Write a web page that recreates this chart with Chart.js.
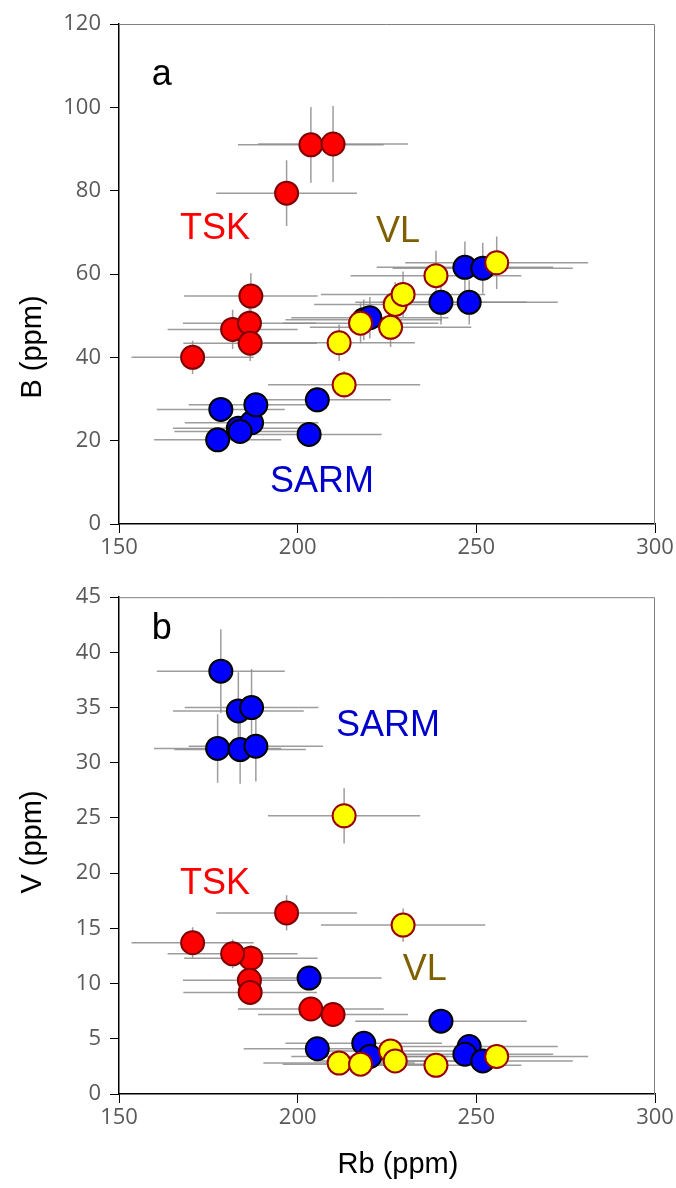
<!DOCTYPE html>
<html>
<head>
<meta charset="utf-8">
<script src="https://cdn.jsdelivr.net/npm/chart.js@4"></script>
<style>
  body { margin: 0; background: #fff; width: 676px; height: 1188px; position: relative; overflow: hidden; }
  .box { position: absolute; left: 0; width: 676px; }
</style>
</head>
<body>
<div class="box" style="top:0;height:575px"><canvas id="chartB"></canvas></div>
<div class="box" style="top:575px;height:613px"><canvas id="chartV"></canvas></div>
<script>
// Rb, B and V in ppm, with the +/- errors
const redRb   = [203.7, 209.9, 196.9, 186.9, 181.8, 186.5, 186.7, 170.6];
const redRbErr = [20.4, 21.0, 19.7, 18.7, 18.2, 18.6, 18.7, 17.1];
const redB    = [91.0, 91.2, 79.4, 54.7, 46.7, 48.2, 43.4, 40.0];
const redBErr = [9.1, 9.1, 7.9, 5.5, 4.7, 4.8, 4.3, 4.0];
const redV    = [7.7, 7.2, 16.4, 12.3, 12.7, 10.3, 9.2, 13.7];
const redVErr = [0.8, 0.7, 1.6, 1.2, 1.3, 1.0, 0.9, 1.4];

const blueRb   = [178.5, 183.4, 187.1, 177.6, 183.9, 188.3, 203.2, 205.5, 218.5, 220.2, 240.1, 248.0, 246.8, 251.8];
const blueRbErr = [17.9, 18.3, 18.7, 17.8, 18.4, 18.8, 20.3, 20.6, 21.9, 22.0, 24.0, 24.8, 24.7, 25.2];
const blueB    = [27.5, 23.0, 24.3, 20.2, 22.2, 28.6, 21.5, 29.8, 49.0, 49.5, 53.2, 53.2, 61.6, 61.4];
const blueBErr = [2.8, 2.3, 2.4, 2.0, 2.2, 2.9, 2.2, 3.0, 4.9, 5.0, 5.3, 5.3, 6.2, 6.1];
const blueV    = [38.3, 34.7, 35.0, 31.3, 31.2, 31.5, 10.5, 4.1, 4.6, 3.4, 6.6, 4.3, 3.6, 3.0];
const blueVErr = [3.8, 3.5, 3.5, 3.1, 3.1, 3.2, 1.1, 0.4, 0.5, 0.3, 0.7, 0.4, 0.4, 0.3];

const yellowRb   = [211.6, 213.0, 217.6, 226.0, 227.3, 229.5, 238.7, 255.7];
const yellowRbErr = [21.2, 21.3, 21.8, 22.6, 22.7, 23.0, 23.9, 25.6];
const yellowB    = [43.5, 33.4, 48.2, 47.2, 52.7, 55.1, 59.6, 62.7];
const yellowBErr = [4.4, 3.3, 4.8, 4.7, 5.3, 5.5, 6.0, 6.3];
const yellowV    = [2.8, 25.2, 2.7, 3.9, 3.0, 15.3, 2.6, 3.4];
const yellowVErr = [0.3, 2.5, 0.3, 0.4, 0.3, 1.5, 0.3, 0.3];

const xTicks = [150, 200, 250, 300];

function pts(xs, ys) {
  return xs.map((x, i) => ({ x: x, y: ys[i] }));
}

function series(xs, xe, ys, ye, fill, edge, ord) {
  return {
    data: pts(xs, ys), xErr: xe, yErr: ye, order: ord,
    pointRadius: 11.5, pointHoverRadius: 11.5,
    backgroundColor: fill, borderColor: edge, borderWidth: 2
  };
}

// error bars + top/right frame, then text notes
function extras(notes, yTitle) {
  return {
    id: 'extras',
    beforeDatasetsDraw(chart) {
      const ctx = chart.ctx, xs = chart.scales.x, ys = chart.scales.y, a = chart.chartArea;
      ctx.save();
      ctx.strokeStyle = '#808080';
      ctx.lineWidth = 1;
      ctx.beginPath();
      ctx.moveTo(a.left, a.top + 0.5);
      ctx.lineTo(a.right - 0.5, a.top + 0.5);
      ctx.lineTo(a.right - 0.5, a.bottom);
      ctx.stroke();
      ctx.beginPath();
      ctx.rect(a.left, a.top, a.right - a.left, a.bottom - a.top);
      ctx.clip();
      ctx.strokeStyle = 'rgba(140,140,140,0.85)';
      ctx.lineWidth = 1.5;
      chart.data.datasets.forEach(ds => {
        ds.data.forEach((p, i) => {
          const px = xs.getPixelForValue(p.x), py = ys.getPixelForValue(p.y);
          ctx.beginPath();
          ctx.moveTo(xs.getPixelForValue(p.x - ds.xErr[i]), py);
          ctx.lineTo(xs.getPixelForValue(p.x + ds.xErr[i]), py);
          ctx.moveTo(px, ys.getPixelForValue(p.y - ds.yErr[i]));
          ctx.lineTo(px, ys.getPixelForValue(p.y + ds.yErr[i]));
          ctx.stroke();
        });
      });
      ctx.restore();
    },
    afterDraw(chart) {
      const ctx = chart.ctx, xs = chart.scales.x, ys = chart.scales.y;
      ctx.save();
      ctx.textAlign = 'center';
      ctx.textBaseline = 'middle';
      ctx.font = '36px "Liberation Sans", Arial, sans-serif';
      notes.forEach(n => {
        ctx.fillStyle = n.color;
        ctx.fillText(n.text, xs.getPixelForValue(n.x), ys.getPixelForValue(n.y));
      });
      ctx.fillStyle = '#000';
      ctx.font = '29px "Liberation Sans", Arial, sans-serif';
      ctx.translate(33, yTitle.y);
      ctx.rotate(-Math.PI / 2);
      ctx.fillText(yTitle.text, 0, 0);
      ctx.restore();
      if (yTitle.xText) {
        ctx.save();
        ctx.textAlign = 'center';
        ctx.textBaseline = 'middle';
        ctx.fillStyle = '#000';
        ctx.font = '29px "Liberation Sans", Arial, sans-serif';
        ctx.fillText(yTitle.xText, 398, yTitle.xY);
        ctx.restore();
      }
    }
  };
}

function axes(yMax, yStep, xHeight) {
  const tickFont = { family: '"Open Sans", sans-serif', size: 22 };
  return {
    x: {
      type: 'linear', min: 150, max: 300,
      afterBuildTicks: s => { s.ticks = xTicks.map(v => ({ value: v })); },
      afterFit: s => { s.height = xHeight; },
      ticks: { font: tickFont, color: '#595959', padding: 2 },
      grid: { display: true, drawOnChartArea: false, drawTicks: true, tickLength: 9, color: '#000', lineWidth: 1 },
      border: { display: true, color: '#000', width: 1.5 }
    },
    y: {
      type: 'linear', min: 0, max: yMax,
      afterFit: s => { s.width = 119; },
      ticks: { stepSize: yStep, font: tickFont, color: '#595959', padding: 9 },
      grid: { display: true, drawOnChartArea: false, drawTicks: true, tickLength: 9, color: '#000', lineWidth: 1 },
      border: { display: true, color: '#000', width: 1.5 }
    }
  };
}

const common = {
  responsive: true, maintainAspectRatio: false, animation: false,
  events: [],
  plugins: { legend: { display: false }, tooltip: { enabled: false } }
};

new Chart(document.getElementById('chartB'), {
  type: 'scatter',
  data: {
    datasets: [
      series(redRb, redRbErr, redB, redBErr, '#FF0000', '#7F0000', 3),
      series(blueRb, blueRbErr, blueB, blueBErr, '#0000FF', '#000000', 2),
      series(yellowRb, yellowRbErr, yellowB, yellowBErr, '#FFFF00', '#990000', 1)
    ]
  },
  options: Object.assign({}, common, {
    layout: { padding: { top: 24, right: 21, left: 0, bottom: 0 } },
    scales: axes(120, 20, 51)
  }),
  plugins: [extras([
    { text: 'a', x: 162.0, y: 107.8, color: '#000000' },
    { text: 'TSK', x: 176.9, y: 70.8, color: '#FF0000' },
    { text: 'VL', x: 228.1, y: 70.1, color: '#7F6000' },
    { text: 'SARM', x: 206.8, y: 10.1, color: '#0000CC' }
  ], { text: 'B (ppm)', y: 347 })]
});

new Chart(document.getElementById('chartV'), {
  type: 'scatter',
  data: {
    datasets: [
      series(redRb, redRbErr, redV, redVErr, '#FF0000', '#7F0000', 3),
      series(blueRb, blueRbErr, blueV, blueVErr, '#0000FF', '#000000', 2),
      series(yellowRb, yellowRbErr, yellowV, yellowVErr, '#FFFF00', '#990000', 1)
    ]
  },
  options: Object.assign({}, common, {
    layout: { padding: { top: 21, right: 21, left: 0, bottom: 0 } },
    scales: axes(45, 5, 94)
  }),
  plugins: [extras([
    { text: 'b', x: 162.0, y: 42.1, color: '#000000' },
    { text: 'SARM', x: 225.3, y: 33.3, color: '#0000CC' },
    { text: 'TSK', x: 176.9, y: 19.0, color: '#FF0000' },
    { text: 'VL', x: 235.6, y: 11.2, color: '#7F6000' }
  ], { text: 'V (ppm)', y: 267, xText: 'Rb (ppm)', xY: 590 })]
});
</script>
</body>
</html>
